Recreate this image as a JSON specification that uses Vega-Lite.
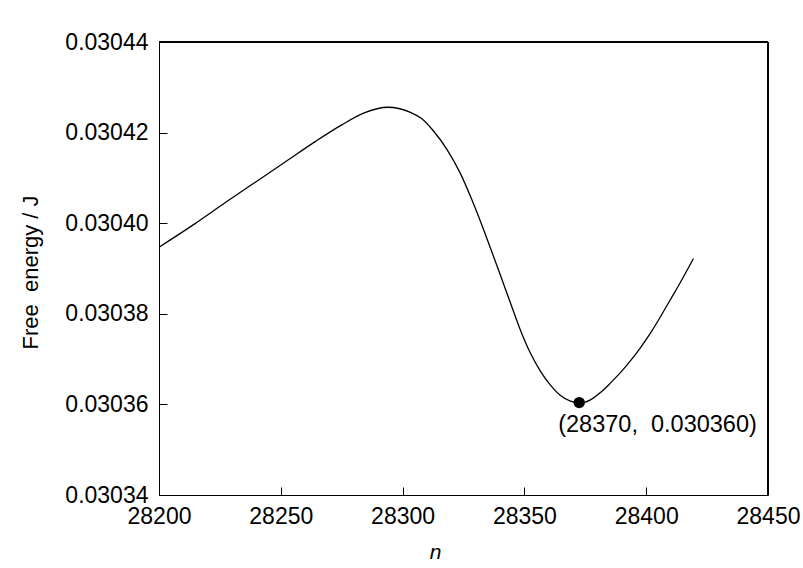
{
  "$schema": "https://vega.github.io/schema/vega-lite/v6.json",
  "width": 609,
  "height": 453,
  "autosize": {"type": "none"},
  "padding": {"left": 159, "top": 42, "right": 35, "bottom": 73},
  "background": "white",
  "config": {
    "view": {"stroke": null},
    "font": "Liberation Sans",
    "axis": {"grid": false, "domainColor": "black", "tickColor": "black", "labelColor": "black", "titleColor": "black", "labelFont": "Liberation Sans", "titleFont": "Liberation Sans", "labelFontSize": 23, "titleFontSize": 22, "titleFontWeight": "normal", "labelFlush": false, "labelOverlap": false, "tickWidth": 1}
  },
  "datasets": {
    "curve": [
      {"n": 28200, "F": 0.0303947},
      {"n": 28214.8, "F": 0.0303999},
      {"n": 28227.1, "F": 0.0304045},
      {"n": 28239.4, "F": 0.0304090},
      {"n": 28251.8, "F": 0.0304135},
      {"n": 28264.1, "F": 0.0304180},
      {"n": 28275.0, "F": 0.0304217},
      {"n": 28284.0, "F": 0.0304243},
      {"n": 28294.0, "F": 0.0304256},
      {"n": 28303.0, "F": 0.0304245},
      {"n": 28307.8, "F": 0.0304231},
      {"n": 28312.6, "F": 0.0304204},
      {"n": 28318.3, "F": 0.0304162},
      {"n": 28323.7, "F": 0.0304110},
      {"n": 28327.8, "F": 0.0304060},
      {"n": 28331.9, "F": 0.0304005},
      {"n": 28336.0, "F": 0.0303946},
      {"n": 28340.1, "F": 0.0303886},
      {"n": 28344.2, "F": 0.0303825},
      {"n": 28348.3, "F": 0.0303765},
      {"n": 28352.4, "F": 0.0303714},
      {"n": 28356.5, "F": 0.0303674},
      {"n": 28360.6, "F": 0.0303643},
      {"n": 28364.7, "F": 0.0303620},
      {"n": 28368.9, "F": 0.0303607},
      {"n": 28373.0, "F": 0.0303603},
      {"n": 28377.1, "F": 0.0303610},
      {"n": 28381.2, "F": 0.0303626},
      {"n": 28385.3, "F": 0.0303647},
      {"n": 28389.4, "F": 0.0303670},
      {"n": 28393.5, "F": 0.0303696},
      {"n": 28397.6, "F": 0.0303725},
      {"n": 28401.8, "F": 0.0303758},
      {"n": 28405.8, "F": 0.0303793},
      {"n": 28409.9, "F": 0.0303831},
      {"n": 28414.0, "F": 0.0303869},
      {"n": 28419.4, "F": 0.0303922}
    ],
    "pt": [
      {"n": 28372.5, "F": 0.0303604, "label": "(28370,\u00a0 0.030360)"}
    ],
    "edge": [
      {"n": 28450, "F": 0.03044}
    ]
  },
  "layer": [
    {
      "data": {"name": "curve"},
      "mark": {"type": "line", "color": "black", "strokeWidth": 1.3, "interpolate": "monotone", "clip": true},
      "encoding": {
        "x": {"field": "n", "type": "quantitative", "scale": {"domain": [28200, 28450], "nice": false, "zero": false},
          "axis": {"title": "n", "titleFontStyle": "italic", "titleFontSize": 21, "values": [28200, 28250, 28300, 28350, 28400, 28450], "format": "d", "tickSize": -8, "labelPadding": 18, "domainWidth": 1, "titleX": 276, "titleY": 63, "titleBaseline": "alphabetic", "titleAlign": "center"}},
        "y": {"field": "F", "type": "quantitative", "scale": {"domain": [0.03034, 0.03044], "nice": false, "zero": false},
          "axis": {"title": "Free\u00a0 energy / J", "values": [0.03034, 0.03036, 0.03038, 0.0304, 0.03042, 0.03044], "format": ".5f", "tickSize": -8, "labelPadding": 19, "domainWidth": 1, "titleX": -122, "titleY": 230, "titleBaseline": "alphabetic", "titleAlign": "center", "titleAngle": -90}}
      }
    },
    {
      "data": {"name": "edge"},
      "mark": {"type": "rule", "color": "black", "strokeWidth": 2},
      "encoding": {
        "x": {"field": "n", "type": "quantitative"}
      }
    },
    {
      "data": {"name": "edge"},
      "mark": {"type": "rule", "color": "black", "strokeWidth": 2},
      "encoding": {
        "y": {"field": "F", "type": "quantitative"}
      }
    },
    {
      "data": {"name": "pt"},
      "mark": {"type": "point", "filled": true, "color": "black", "size": 130, "opacity": 1},
      "encoding": {
        "x": {"field": "n", "type": "quantitative"},
        "y": {"field": "F", "type": "quantitative"}
      }
    },
    {
      "data": {"name": "pt"},
      "mark": {"type": "text", "align": "left", "baseline": "top", "dx": -21, "dy": 10, "fontSize": 23.5, "font": "Liberation Sans", "color": "black"},
      "encoding": {
        "x": {"field": "n", "type": "quantitative"},
        "y": {"field": "F", "type": "quantitative"},
        "text": {"field": "label"}
      }
    }
  ]
}
